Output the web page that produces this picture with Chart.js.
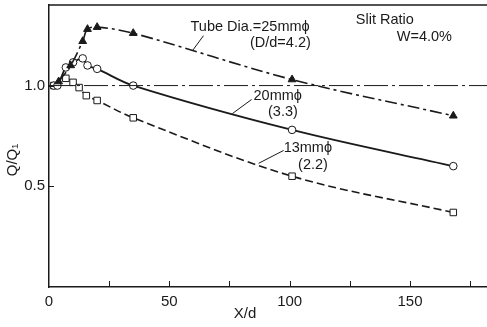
<!DOCTYPE html>
<html>
<head>
<meta charset="utf-8">
<script src="https://cdn.jsdelivr.net/npm/chart.js@4.4.1/dist/chart.umd.min.js"></script>
<style>
    html, body { margin: 0; padding: 0; background: #fff; }
    #wrap { width: 487px; height: 327px; }
</style>
</head>
<body>
<div id="wrap"><canvas id="c"></canvas></div>
<script>
    // 読み取った値 (X/d, Q/Q1)
    const tube25X = [4, 9, 14, 16, 20, 35, 101, 168];
    const tube25Y = [1.02, 1.10, 1.22, 1.28, 1.29, 1.26, 1.03, 0.85];

    const tube20X = [2, 3.5, 7, 10, 14, 16, 20, 35, 101, 168];
    const tube20Y = [1.00, 1.00, 1.09, 1.115, 1.135, 1.10, 1.083, 1.00, 0.78, 0.60];

    const tube13X = [2, 7, 10, 12.5, 15.5, 20, 35, 101, 168];
    const tube13Y = [1.00, 1.036, 1.016, 0.99, 0.95, 0.926, 0.84, 0.55, 0.37];

    const refLineX = [0, 182];
    const refLineY = [1.0, 1.0];

    const xTicks = [25, 50, 75, 100, 125, 150, 175];
    const xLabeled = [0, 50, 100, 150];
    const yTicks = [0.5, 1.0];

    // 注記 (データ座標)
    const notes = [
        { text: 'Tube Dia.=25mm\u03D5', x: 58.8, y: 1.29 },
        { text: '(D/d=4.2)', x: 83.5, y: 1.21 },
        { text: 'Slit Ratio', x: 127.5, y: 1.325 },
        { text: 'W=4.0%', x: 144.5, y: 1.243 },
        { text: '20mm\u03D5', x: 85, y: 0.95 },
        { text: '(3.3)', x: 91, y: 0.87 },
        { text: '13mm\u03D5', x: 97.5, y: 0.688 },
        { text: '(2.2)', x: 103.5, y: 0.608 }
    ];
    const leaders = [
        [64.2, 1.248, 59.6, 1.173],
        [84.2, 0.931, 76.2, 0.861],
        [97.5, 0.678, 87.1, 0.614]
    ];

    function pts(xs, ys) {
        return xs.map((x, i) => ({ x: x, y: ys[i] }));
    }

    const FONT = '"Liberation Sans Narrow", "Liberation Sans", Arial, sans-serif';
    const INK = '#1a1a1a';
    Chart.defaults.font.family = FONT;
    Chart.defaults.color = INK;

    const decorPlugin = {
        id: 'decor',
        afterDraw(chart) {
            const ctx = chart.ctx;
            const xs = chart.scales.x;
            const ys = chart.scales.y;
            const area = chart.chartArea;
            ctx.save();
            ctx.strokeStyle = INK;
            ctx.fillStyle = INK;

            // 上枠
            ctx.lineWidth = 1.5;
            ctx.beginPath();
            ctx.moveTo(area.left, area.top);
            ctx.lineTo(area.right, area.top);
            ctx.stroke();

            // 内向き目盛
            ctx.lineWidth = 1;
            xTicks.forEach(v => {
                const px = Math.round(xs.getPixelForValue(v)) + 0.5;
                ctx.beginPath();
                ctx.moveTo(px, area.bottom);
                ctx.lineTo(px, area.bottom - 6);
                ctx.stroke();
            });
            yTicks.forEach(v => {
                const py = Math.round(ys.getPixelForValue(v)) + 0.5;
                ctx.beginPath();
                ctx.moveTo(area.left, py);
                ctx.lineTo(area.left + 5, py);
                ctx.stroke();
            });

            // 注記
            ctx.font = '14.5px ' + FONT;
            ctx.textBaseline = 'middle';
            ctx.textAlign = 'left';
            notes.forEach(n => {
                ctx.fillText(n.text, xs.getPixelForValue(n.x), ys.getPixelForValue(n.y));
            });
            ctx.lineWidth = 1;
            leaders.forEach(l => {
                ctx.beginPath();
                ctx.moveTo(xs.getPixelForValue(l[0]), ys.getPixelForValue(l[1]));
                ctx.lineTo(xs.getPixelForValue(l[2]), ys.getPixelForValue(l[3]));
                ctx.stroke();
            });

            // 軸タイトル
            ctx.font = '15px ' + FONT;
            ctx.textAlign = 'center';
            ctx.fillText('X/d', 245, 314);
            ctx.translate(13, 160);
            ctx.rotate(-Math.PI / 2);
            ctx.fillText('Q/Q\u2081', 0, 0);
            ctx.restore();
        }
    };

    new Chart(document.getElementById('c'), {
        type: 'line',
        data: {
            datasets: [
                {
                    label: 'ref',
                    data: pts(refLineX, refLineY),
                    borderColor: INK,
                    borderWidth: 1,
                    borderDash: [24, 4, 3, 4],
                    pointRadius: 0,
                    tension: 0
                },
                {
                    label: '25mm',
                    data: pts(tube25X, tube25Y),
                    borderColor: INK,
                    borderWidth: 1.6,
                    borderDash: [12, 4, 3, 4],
                    pointStyle: 'triangle',
                    pointRadius: 4.5,
                    pointBackgroundColor: INK,
                    pointBorderColor: INK,
                    pointBorderWidth: 1,
                    tension: 0.35
                },
                {
                    label: '20mm',
                    data: pts(tube20X, tube20Y),
                    borderColor: INK,
                    borderWidth: 1.8,
                    pointStyle: 'circle',
                    pointRadius: 3.8,
                    pointBackgroundColor: '#fff',
                    pointBorderColor: INK,
                    pointBorderWidth: 1,
                    tension: 0.35
                },
                {
                    label: '13mm',
                    data: pts(tube13X, tube13Y),
                    borderColor: INK,
                    borderWidth: 1.6,
                    borderDash: [8, 4],
                    pointStyle: 'rect',
                    pointRadius: 4.6,
                    pointBackgroundColor: '#fff',
                    pointBorderColor: INK,
                    pointBorderWidth: 1,
                    tension: 0.35
                }
            ]
        },
        options: {
            responsive: true,
            maintainAspectRatio: false,
            animation: false,
            layout: { autoPadding: false, padding: { top: 5, right: 0, left: 0, bottom: 0 } },
            plugins: {
                legend: { display: false },
                tooltip: { enabled: false }
            },
            scales: {
                x: {
                    type: 'linear',
                    min: 0,
                    max: 182,
                    afterBuildTicks: scale => {
                        scale.ticks = xLabeled.map(v => ({ value: v }));
                    },
                    afterFit: scale => {
                        scale.height = 40;
                        scale.paddingLeft = 0;
                        scale.paddingRight = 0;
                    },
                    grid: { display: false, drawTicks: false },
                    border: { display: true, color: INK, width: 1.5 },
                    ticks: {
                        padding: 6,
                        maxRotation: 0,
                        font: { size: 15 },
                        color: INK,
                        callback: v => String(v)
                    }
                },
                y: {
                    type: 'linear',
                    min: 0,
                    max: 1.4,
                    afterBuildTicks: scale => {
                        scale.ticks = yTicks.map(v => ({ value: v }));
                    },
                    afterFit: scale => {
                        scale.width = 49;
                        scale.paddingTop = 0;
                        scale.paddingBottom = 0;
                    },
                    grid: { display: false, drawTicks: false },
                    border: { display: true, color: INK, width: 1.5 },
                    ticks: {
                        padding: 4,
                        font: { size: 15 },
                        color: INK,
                        callback: v => v.toFixed(1)
                    }
                }
            }
        },
        plugins: [decorPlugin]
    });
</script>
</body>
</html>
